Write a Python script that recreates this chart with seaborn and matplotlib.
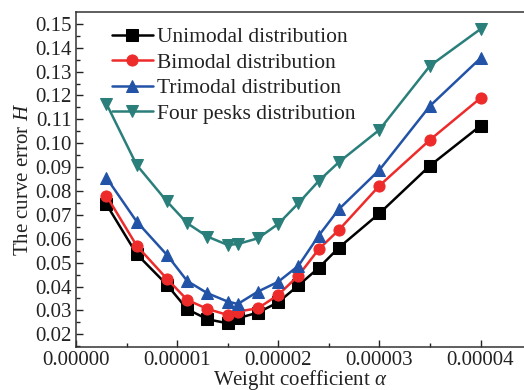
import matplotlib
matplotlib.use("Agg")
import matplotlib.pyplot as plt
import seaborn as sns
import numpy as np
import pandas as pd
from matplotlib.ticker import MultipleLocator, FuncFormatter

alpha = [0.000003, 0.000006, 0.000009, 0.000011, 0.000013, 0.000015, 0.000016,
         0.000018, 0.000020, 0.000022, 0.000024, 0.000026, 0.000030, 0.000035, 0.000040]
unimodal = [0.0745, 0.0536, 0.0407, 0.0305, 0.0263, 0.0246, 0.0267,
            0.0291, 0.0334, 0.0405, 0.0478, 0.0563, 0.0706, 0.0906, 0.1073]
bimodal = [0.0781, 0.0571, 0.0432, 0.0344, 0.0306, 0.0281, 0.0295,
           0.0309, 0.0365, 0.0446, 0.0556, 0.0637, 0.0822, 0.1014, 0.1189]
trimodal = [0.0856, 0.0672, 0.0532, 0.0423, 0.0372, 0.0337, 0.0327,
            0.0379, 0.0420, 0.0487, 0.0613, 0.0724, 0.0888, 0.1156, 0.1356]
four_peaks = [0.1166, 0.0909, 0.0756, 0.0665, 0.0609, 0.0574, 0.0578,
              0.0602, 0.0662, 0.0749, 0.0842, 0.0921, 0.1056, 0.1324, 0.1478]

labels = ["Unimodal distribution", "Bimodal distribution",
          "Trimodal distribution", "Four pesks distribution"]
series = [unimodal, bimodal, trimodal, four_peaks]
colors = ["#000000", "#ee2b2b", "#2253a6", "#2a7f7b"]
markers = ["s", "o", "^", "v"]

sns.set_theme(style="ticks")
plt.rcParams["font.family"] = ["Liberation Serif", "DejaVu Serif"]
plt.rcParams["mathtext.fontset"] = "custom"
plt.rcParams["mathtext.it"] = "Liberation Serif:italic"
plt.rcParams["mathtext.rm"] = "Liberation Serif"

fig = plt.figure(figsize=(5.24, 3.90), dpi=100)
ax = fig.add_axes([0.145, 0.111, 0.855, 0.858])

for lab, vals, c, m in zip(labels, series, colors, markers):
    df = pd.DataFrame({"alpha": alpha, "H": vals})
    sns.lineplot(data=df, x="alpha", y="H", ax=ax, color=c, marker=m,
                 markersize=8, linewidth=1.8, markeredgecolor=c,
                 label=lab)

ax.set_xlim(0, 0.0000443)
ax.set_ylim(0.0148, 0.1549)
ax.xaxis.set_major_locator(MultipleLocator(0.00001))
ax.xaxis.set_minor_locator(MultipleLocator(0.000005))
ax.yaxis.set_major_locator(MultipleLocator(0.01))
ax.yaxis.set_minor_locator(MultipleLocator(0.005))
ax.xaxis.set_major_formatter(FuncFormatter(lambda v, p: f"{v:.5f}"))
ax.yaxis.set_major_formatter(FuncFormatter(lambda v, p: f"{v:.2f}"))
ax.tick_params(axis="both", which="major", direction="in", length=5, width=1.0,
               labelsize=15, pad=3, colors="#222222", labelcolor="#222222")
ax.tick_params(axis="both", which="minor", direction="in", length=3, width=1.0,
               colors="#222222")
ax.tick_params(top=False, right=False, which="both")
for s in ["left", "bottom", "top"]:
    ax.spines[s].set_linewidth(1.1)
    ax.spines[s].set_color("#333333")
ax.spines["right"].set_visible(False)

ax.set_xlabel(r"Weight coefficient $\alpha$", fontsize=15, labelpad=-1, color="#222222")
ax.set_ylabel(r"The curve error $H$", fontsize=15, labelpad=2, color="#222222")

leg = ax.legend(loc="upper left", bbox_to_anchor=(0.08, 0.955), frameon=False,
                fontsize=15.5, handlelength=1.9, handletextpad=0.2,
                labelspacing=0.25, borderpad=0, borderaxespad=0)
for t in leg.get_texts():
    t.set_color("#222222")

fig.savefig("out.png", dpi=100)
